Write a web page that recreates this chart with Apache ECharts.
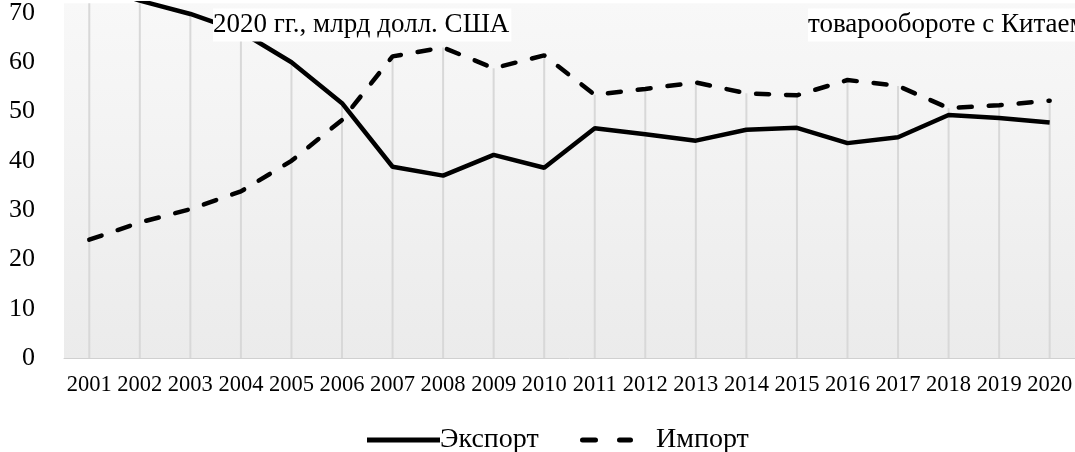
<!DOCTYPE html>
<html>
<head>
<meta charset="utf-8">
<script src="https://cdn.jsdelivr.net/npm/echarts@6/dist/echarts.min.js"></script>
<style>
html,body{margin:0;padding:0;background:#fff;}
#chart{width:1075px;height:452px;}
</style>
</head>
<body>
<div id="chart"></div>
<script>
const years = ['2001','2002','2003','2004','2005','2006','2007','2008','2009','2010','2011','2012','2013','2014','2015','2016','2017','2018','2019','2020'];
const exportShare = [76.0, 72.5, 69.8, 66.2, 60.0, 51.7, 38.8, 37.0, 41.2, 38.6, 46.6, 45.4, 44.1, 46.3, 46.7, 43.6, 44.8, 49.3, 48.7, 47.8];
const importShare = [24.0, 27.5, 30.2, 33.8, 40.0, 48.3, 61.2, 63.0, 58.8, 61.4, 53.4, 54.6, 55.9, 53.7, 53.3, 56.4, 55.2, 50.7, 51.3, 52.2];
const yTicks = [0, 10, 20, 30, 40, 50, 60, 70];

const dropLines = exportShare.map((v, i) => Math.max(v, importShare[i]));
const FONT = "'Liberation Serif', 'Times New Roman', serif";

const dashIcon = 'path://M2.5,0H15.5A2.5,2.5 0 0 1 15.5,5H2.5A2.5,2.5 0 0 1 2.5,0Z' +
  'M39.5,0H50.5A2.5,2.5 0 0 1 50.5,5H39.5A2.5,2.5 0 0 1 39.5,0Z';

const chart = echarts.init(document.getElementById('chart'), null, {renderer: 'canvas'});
chart.setOption({
  animation: false,
  backgroundColor: '#ffffff',
  grid: {
    left: 64, width: 1018, top: 0, bottom: 94,
    show: true, borderWidth: 0,
    backgroundColor: {
      type: 'linear', x: 0, y: 0, x2: 0, y2: 1,
      colorStops: [{offset: 0, color: '#f8f8f8'}, {offset: 1, color: '#ebebeb'}]
    }
  },
  legend: [
    {
      data: [{name: 'Экспорт', icon: 'rect'}],
      left: 362, top: 421,
      itemWidth: 73, itemHeight: 5,
      itemStyle: {color: '#000'},
      textStyle: {fontFamily: FONT, fontSize: 28, color: '#000', padding: [0, 0, 0, -5]}
    },
    {
      data: [{name: 'Импорт', icon: dashIcon}],
      left: 575, top: 421,
      itemWidth: 53, itemHeight: 5,
      itemStyle: {color: '#000'},
      textStyle: {fontFamily: FONT, fontSize: 28, color: '#000', padding: [0, 0, 0, 18]}
    }
  ],
  xAxis: {
    type: 'category', data: years, boundaryGap: true,
    axisLine: {show: true, lineStyle: {color: '#d0d0d0', width: 1}},
    axisTick: {show: false},
    splitLine: {show: false},
    axisLabel: {interval: 0, fontFamily: FONT, fontSize: 22.5, color: '#000', margin: 16}
  },
  yAxis: {
    type: 'value', min: 0, max: 72, interval: 10,
    axisLine: {show: false}, axisTick: {show: false}, splitLine: {show: false},
    axisLabel: {
      fontFamily: FONT, fontSize: 26, color: '#000', margin: 29,
      formatter: v => (yTicks.indexOf(v) >= 0 ? String(v) : '')
    }
  },
  series: [
    {
      name: 'drop', type: 'bar', data: dropLines, barWidth: 2, silent: true,
      itemStyle: {color: '#d8d8d8'}, z: 1
    },
    {
      name: 'Экспорт', type: 'line', data: exportShare, symbol: 'none', z: 3,
      lineStyle: {color: '#000', width: 4.5, type: 'solid'},
      itemStyle: {color: '#000'}
    },
    {
      name: 'Импорт', type: 'line', data: importShare, symbol: 'none', z: 3,
      lineStyle: {color: '#000', width: 4.5, type: [13, 17], cap: 'round'},
      itemStyle: {color: '#000'}
    }
  ],
  graphic: [
    {
      type: 'rect', z: 100, silent: true,
      shape: {x: 160, y: -10, width: 920, height: 12},
      style: {fill: '#ffffff'}
    },
    {
      type: 'text', z: 101, silent: true,
      style: {
        text: 'Рисунок 1 – Экспорт и импорт в торговле, 2001 –',
        x: 150, y: 0.5, textVerticalAlign: 'bottom',
        font: '27px ' + FONT, fill: '#000'
      }
    },
    {
      type: 'text', z: 101, silent: true,
      style: {
        text: 'Рисунок 2 – Доля экспорта и импорта в',
        x: 700, y: 0.5, textVerticalAlign: 'bottom',
        font: '27px ' + FONT, fill: '#000'
      }
    },
    {
      type: 'text', z: 101, silent: true,
      style: {
        text: '2020 гг., млрд долл. США',
        x: 213, y: 25, textVerticalAlign: 'middle',
        font: '27px ' + FONT, fill: '#000',
        backgroundColor: '#ffffff', padding: [3, 2, 3, 0]
      }
    },
    {
      type: 'text', z: 101, silent: true,
      style: {
        text: 'товарообороте с Китаем',
        x: 808, y: 25, textVerticalAlign: 'middle',
        font: '27px ' + FONT, fill: '#000',
        backgroundColor: '#ffffff', padding: [3, 2, 3, 0]
      }
    }
  ]
});
</script>
</body>
</html>
